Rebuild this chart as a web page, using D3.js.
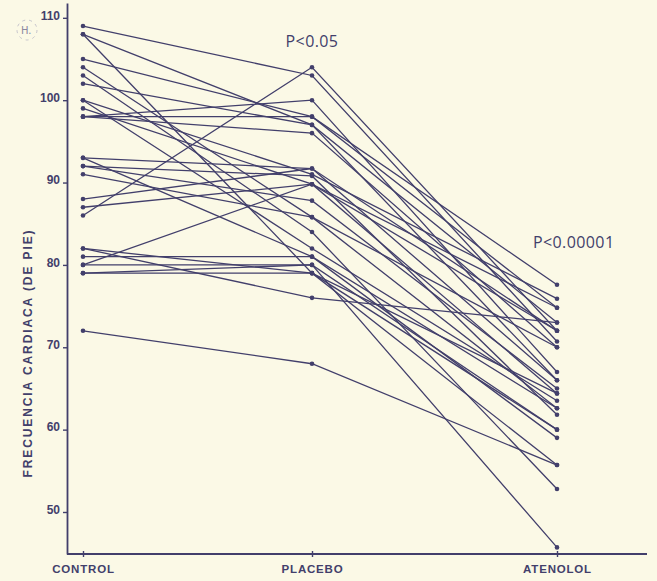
<!DOCTYPE html>
<html>
<head>
<meta charset="utf-8">
<script src="https://cdn.jsdelivr.net/npm/d3@7"></script>
<style>
  body { margin: 0; background: #fbf9e6; }
  svg { display: block; }
  .tick text { font-family: "Liberation Sans", Arial, sans-serif; font-weight: bold; fill: #423f6b; }
</style>
</head>
<body>
<div id="chart"></div>
<script>
// groups on the x axis
const groups = ["CONTROL", "PLACEBO", "ATENOLOL"];
// heart rate per subject
const control  = [109, 108, 108, 105, 104, 103, 102, 100, 100, 99, 98, 98, 98, 93, 93, 92, 92, 91, 88, 87, 86, 82, 82, 81, 80, 80, 79, 79, 72];
const placebo  = [103, 79, 97, 98, 85.8, 84, 97, 82, 91, 89.8, 100, 98, 96, 91.7, 81, 90.8, 87.8, 85.8, 91.7, 89.8, 104, 76, 79, 81, 89.8, 80, 79, 80, 68];
const atenolol = [70.7, 60, 66, 77.6, 62.6, 52.8, 73, 63.5, 75.9, 64.4, 67, 74.8, 70, 72, 59, 61.8, 65, 70, 66, 72, 72, 73, 55.7, 62.6, 74.8, 45.7, 64.4, 60, 55.7];
const yTicks = [50, 60, 70, 80, 90, 100, 110];
const pLabels = [
    { group: 1, value: 106.4, text: "P<0.05" },
    { group: 2, value: 82.0, text: "P<0.00001" }
];

const width = 657, height = 581;
const ink = "#423f6b";

const svg = d3.select("#chart").append("svg")
    .attr("width", width)
    .attr("height", height);

const x = d3.scaleLinear()
    .domain([0, 1, 2])
    .range([83, 312, 557]);

const y = d3.scaleLinear()
    .domain([44.9, 111.8])
    .range([554, 3]);

const subjects = control.map((c, i) => [c, placebo[i], atenolol[i]]);

// lines
svg.selectAll(".subject")
    .data(subjects)
    .enter()
    .append("path")
    .attr("class", "subject")
    .attr("fill", "none")
    .attr("stroke", ink)
    .attr("stroke-width", 1.3)
    .attr("d", d3.line().x((d, i) => x(i)).y(d => y(d)));

// dots
const dots = [];
subjects.forEach(s => s.forEach((v, i) => dots.push({ g: i, v: v })));
svg.selectAll(".dot")
    .data(dots)
    .enter()
    .append("circle")
    .attr("class", "dot")
    .attr("cx", d => x(d.g))
    .attr("cy", d => y(d.v))
    .attr("r", 2.3)
    .attr("fill", ink);

// y axis
const yAxis = svg.append("g")
    .attr("transform", "translate(67,0)")
    .call(d3.axisLeft(y).tickValues(yTicks).tickSize(4).tickSizeOuter(0).tickPadding(3));
yAxis.select(".domain").attr("stroke", ink).attr("stroke-width", 1.8);
yAxis.selectAll(".tick line").attr("stroke", ink).attr("stroke-width", 1.4);
yAxis.selectAll(".tick text").attr("font-size", 12).attr("dy", "0.1em");

// x axis
const xAxis = svg.append("g")
    .attr("transform", "translate(0,554)")
    .call(d3.axisBottom(x).tickValues([0, 1, 2]).tickFormat(i => groups[i]).tickSize(3).tickSizeOuter(0).tickPadding(8));
xAxis.select(".domain").attr("stroke", ink).attr("stroke-width", 1.8)
    .attr("d", "M67,0H647");
xAxis.selectAll(".tick line").attr("stroke", ink).attr("stroke-width", 1.4).attr("y1", -3);
xAxis.selectAll(".tick text").attr("font-size", 11.5).attr("letter-spacing", "0.8px");

// y label
svg.append("text")
    .attr("transform", `translate(32,${y(69.3)}) rotate(-90)`)
    .attr("text-anchor", "middle")
    .attr("font-family", "Liberation Sans, Arial, sans-serif")
    .attr("font-weight", "bold")
    .attr("font-size", 12)
    .attr("letter-spacing", "1.9px")
    .attr("fill", ink)
    .text("FRECUENCIA CARDIACA (DE PIE)");

// significance labels
svg.selectAll(".plabel")
    .data(pLabels)
    .enter()
    .append("text")
    .attr("class", "plabel")
    .attr("x", d => d.group === 1 ? x(d.group) : x(d.group) - 24)
    .attr("y", d => y(d.value))
    .attr("text-anchor", d => d.group === 1 ? "middle" : "start")
    .attr("font-family", "Open Sans, sans-serif")
    .attr("font-size", 16)
    .attr("letter-spacing", "0.4px")
    .attr("fill", ink)
    .text(d => d.text);

// handwritten mark in the corner
svg.append("circle")
    .attr("cx", 27)
    .attr("cy", 30)
    .attr("r", 10)
    .attr("fill", "none")
    .attr("stroke", "#b8b6c4")
    .attr("stroke-width", 0.8)
    .attr("stroke-dasharray", "3,4");
svg.append("text")
    .attr("x", 21)
    .attr("y", 34)
    .attr("font-family", "DejaVu Sans, sans-serif")
    .attr("font-size", 10)
    .attr("fill", "#8a88a0")
    .text("H.");
</script>
</body>
</html>
